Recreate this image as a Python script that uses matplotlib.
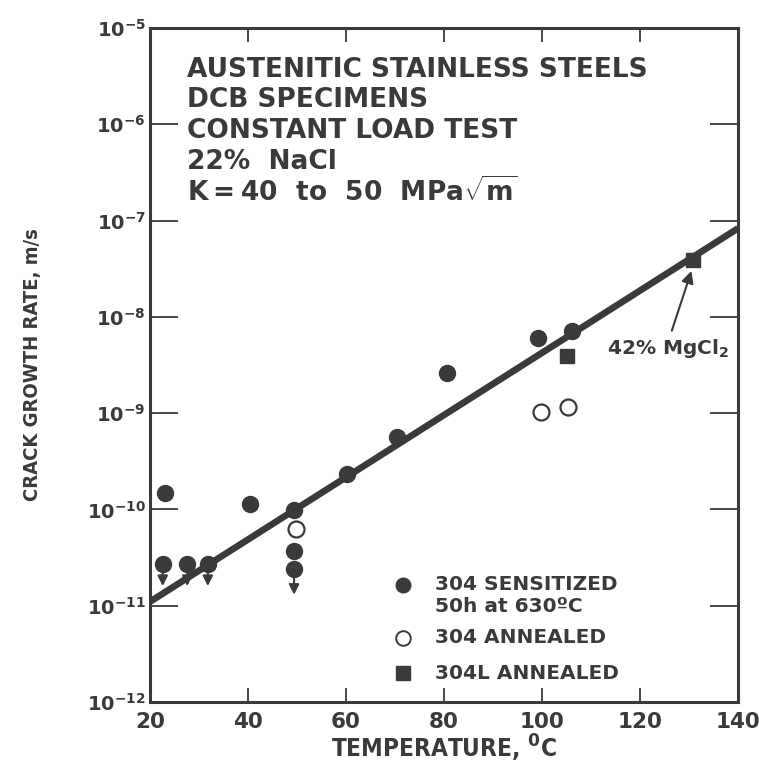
import numpy as np
import matplotlib
matplotlib.use("Agg")
import matplotlib.pyplot as plt

plt.rcParams['font.family'] = ['DejaVu Sans']
plt.rcParams['font.weight'] = 'bold'
plt.rcParams['mathtext.fontset'] = 'custom'
plt.rcParams['mathtext.rm'] = 'DejaVu Sans:bold'
plt.rcParams['mathtext.it'] = 'DejaVu Sans:bold'
plt.rcParams['mathtext.bf'] = 'DejaVu Sans:bold'

INK = '#3a3a3a'

# 304 sensitized (filled circles)
sens_T = [23.1, 22.6, 27.6, 31.8, 40.4, 49.4, 49.4, 49.4, 60.2, 70.4, 80.6, 99.2, 106.1]
sens_v = [1.48e-10, 2.7e-11, 2.7e-11, 2.7e-11, 1.15e-10, 9.8e-11, 3.7e-11, 2.4e-11,
          2.35e-10, 5.6e-10, 2.6e-9, 6.1e-9, 7.2e-9]

# 304 annealed (open circles)
ann_T = [49.8, 99.8, 105.3]
ann_v = [6.2e-11, 1.02e-9, 1.17e-9]

# 304L annealed (squares)
l_T = [105.1, 130.8]
l_v = [3.9e-9, 3.9e-8]

# "less than" arrows below some points
arr_T = [22.6, 27.6, 31.8, 49.4]
arr_from = [2.7e-11, 2.7e-11, 2.7e-11, 2.4e-11]
arr_to = [1.6e-11, 1.6e-11, 1.6e-11, 1.3e-11]

# trend line
fit_T = [20, 140]
fit_v = [1.1e-11, 8.3e-8]

title_lines = ['AUSTENITIC STAINLESS STEELS', 'DCB SPECIMENS', 'CONSTANT LOAD TEST',
               '22%  NaCl', r'K$=$40  to  50  MPa$\sqrt{\rm m}$']

fig = plt.figure(figsize=(7.59, 7.67), dpi=100)
ax = fig.add_axes([150 / 759, 65 / 767, 588 / 759, 674 / 767])

ax.set_yscale('log')
ax.set_xlim(20, 140)
ax.set_ylim(1e-12, 1e-5)

ax.plot(fit_T, fit_v, color=INK, lw=4.8, solid_capstyle='butt', zorder=2)

for t, y0, y1 in zip(arr_T, arr_from, arr_to):
    ax.annotate('', xy=(t, y1), xytext=(t, y0),
                arrowprops=dict(arrowstyle='-|>', color=INK, lw=1.5,
                                mutation_scale=15, shrinkA=0, shrinkB=0), zorder=1)

ax.plot(sens_T, sens_v, 'o', ms=11.5, mfc=INK, mec=INK, ls='none', zorder=3)
ax.plot(ann_T, ann_v, 'o', ms=11.5, mfc='white', mec=INK, mew=1.6, ls='none', zorder=3)
ax.plot(l_T, l_v, 's', ms=10, mfc=INK, mec=INK, ls='none', zorder=3)

# MgCl2 label
ax.annotate('', xy=(130.5, 3.0e-8), xytext=(126.5, 7.2e-9),
            arrowprops=dict(arrowstyle='-|>', color=INK, lw=1.5,
                            mutation_scale=18, shrinkA=0, shrinkB=0))
ax.text(125.8, 4.7e-9, r'42% MgCl$_2$', ha='center', va='center', fontsize=14.5, color=INK)

# title block
for i, line in enumerate(title_lines):
    ax.text(0.063, 0.938 - i * 0.0455, line, transform=ax.transAxes, fontsize=19,
            color=INK, ha='left', va='center')

# legend drawn by hand
ax.plot([0.43], [0.174], 'o', ms=10.5, mfc=INK, mec=INK, transform=ax.transAxes)
ax.text(0.485, 0.174, '304 SENSITIZED', transform=ax.transAxes, fontsize=14.5,
        color=INK, va='center')
ax.text(0.485, 0.141, '50h at 630ºC', transform=ax.transAxes, fontsize=14.5,
        color=INK, va='center')
ax.plot([0.43], [0.095], 'o', ms=10.5, mfc='white', mec=INK, mew=1.4, transform=ax.transAxes)
ax.text(0.485, 0.095, '304 ANNEALED', transform=ax.transAxes, fontsize=14.5,
        color=INK, va='center')
ax.plot([0.43], [0.043], 's', ms=9.5, mfc=INK, mec=INK, transform=ax.transAxes)
ax.text(0.485, 0.043, '304L ANNEALED', transform=ax.transAxes, fontsize=14.5,
        color=INK, va='center')

# axes styling
for s in ax.spines.values():
    s.set_color(INK)
    s.set_linewidth(2.2)

yt = [10.0 ** e for e in range(-12, -4)]
ax.set_yticks(yt)
ax.set_yticklabels([r'$10^{%d}$' % e for e in range(-12, -4)], fontsize=14, color=INK)
ax.yaxis.set_minor_locator(matplotlib.ticker.NullLocator())
ax.set_xticks([20, 40, 60, 80, 100, 120, 140])
ax.set_xticklabels(['20', '40', '60', '80', '100', '120', '140'], fontsize=15.5, color=INK)
ax.tick_params(axis='y', direction='in', length=20, width=1.3, colors=INK,
               left=True, right=True, pad=3)
ax.tick_params(axis='x', direction='in', length=10, width=1.3, colors=INK,
               top=True, bottom=True, pad=7)

ax.set_xlabel(r'TEMPERATURE, $^0$C', fontsize=17.5, color=INK, labelpad=1,
              fontweight='bold', fontstretch='condensed')
ax.set_ylabel('CRACK GROWTH RATE, m/s', fontsize=14.5, color=INK, labelpad=32,
              fontweight='bold', fontstretch='condensed')

fig.savefig('out.png', dpi=100, facecolor='white')
